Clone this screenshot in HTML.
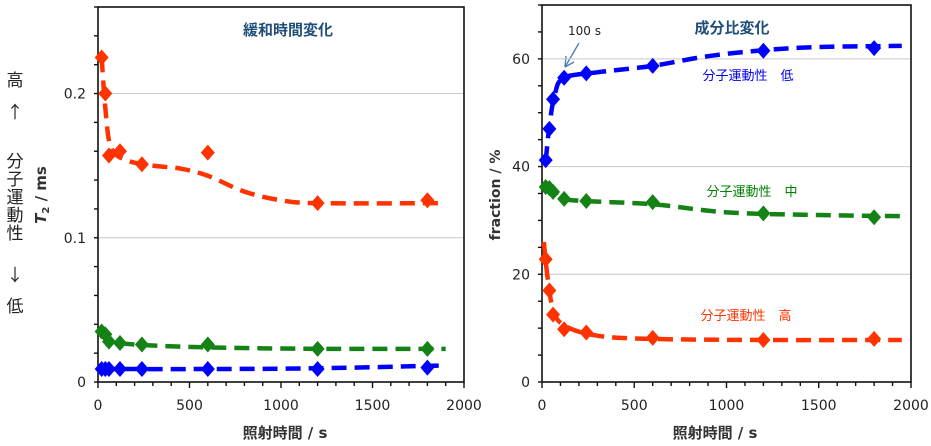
<!DOCTYPE html>
<html><head><meta charset="utf-8"><style>
body{margin:0;background:#fff;width:931px;height:441px;overflow:hidden}
svg{font-family:"DejaVu Sans","Noto Sans CJK JP",sans-serif}
</style></head><body>
<svg id="s" width="931" height="441" xmlns="http://www.w3.org/2000/svg">
<g font-size="17" fill="#222" text-anchor="middle" font-family="'Noto Sans CJK JP',sans-serif">
<text x="15" y="86">高</text><text x="15" y="118">↑</text>
<text x="15" y="167">分</text><text x="15" y="185">子</text><text x="15" y="203">運</text><text x="15" y="221">動</text><text x="15" y="239">性</text>
<text x="15" y="281">↓</text><text x="15" y="312">低</text>
</g>
<text transform="translate(46,195) rotate(-90)" text-anchor="middle" font-size="15" font-weight="bold" fill="#333"><tspan font-style="italic">T</tspan><tspan font-size="10" dy="3">2</tspan><tspan dy="-3"> / ms</tspan></text>
<text transform="translate(500,195) rotate(-90)" text-anchor="middle" font-size="14" font-weight="bold" fill="#333">fraction / %</text>
<text x="288" y="35" text-anchor="middle" font-size="15" font-weight="bold" fill="#1f4e79" font-family="'Noto Sans CJK JP',sans-serif">緩和時間変化</text>
<text x="732" y="33" text-anchor="middle" font-size="15" font-weight="bold" fill="#1f4e79" font-family="'Noto Sans CJK JP',sans-serif">成分比変化</text>
<text x="285" y="438" text-anchor="middle" font-size="15" font-weight="bold" fill="#333">照射時間 / s</text>
<text x="715" y="438" text-anchor="middle" font-size="15" font-weight="bold" fill="#333">照射時間 / s</text>
<text x="568" y="35" font-size="12" fill="#222">100 s</text>
<path d="M579,43 L565,67 M565,67 L566,56 M565,67 L574,62" stroke="#4a7ab5" stroke-width="1.3" fill="none"/>
<text x="748" y="80" text-anchor="middle" font-size="13" fill="#0000ee">分子運動性　低</text>
<text x="752" y="196" text-anchor="middle" font-size="13" fill="#008000">分子運動性　中</text>
<text x="746" y="320" text-anchor="middle" font-size="13" fill="#ff3300">分子運動性　高</text>
<g id="g"></g>
</svg>
<script>
var g=document.getElementById('g'),h='';
function chart(x0,x1,y0,y1,ymax,ticks,minor,labs,grid){
 var sx=s=>x0+(x1-x0)*s/2000, sy=v=>y1-(y1-y0)*v/ymax;
 grid.forEach(v=>{h+=`<line x1="${x0}" x2="${x1}" y1="${sy(v)}" y2="${sy(v)}" stroke="#c8c8c8" stroke-width="1"/>`});
 h+=`<rect x="${x0}" y="${y0}" width="${x1-x0}" height="${y1-y0}" fill="none" stroke="#111" stroke-width="1.6"/>`;
 for(var v=0;v<=ymax+1e-9;v+=minor){h+=`<line x1="${x0-4}" x2="${x0}" y1="${sy(v)}" y2="${sy(v)}" stroke="#111" stroke-width="1.4"/>`;}
 ticks.forEach((v,i)=>{h+=`<text x="${x0-12}" y="${sy(v)+5}" text-anchor="end" font-size="14" fill="#222">${labs[i]}</text>`});
 for(var s=0;s<=2000;s+=100){h+=`<line x1="${sx(s)}" x2="${sx(s)}" y1="${y1}" y2="${y1+(s%500?4:6)}" stroke="#111" stroke-width="1.4"/>`;}
 [0,500,1000,1500,2000].forEach(s=>{h+=`<text x="${sx(s)}" y="${y1+28}" text-anchor="middle" font-size="14" fill="#222">${s}</text>`});
 return {sx,sy};
}
function path(c,pts,col){
 var P=pts.map(p=>[c.sx(p[0]),c.sy(p[1])]),d='M'+P[0];
 for(var i=0;i<P.length-1;i++){var p0=P[i-1]||P[i],p1=P[i],p2=P[i+1],p3=P[i+2]||p2;
  d+=` C${p1[0]+(p2[0]-p0[0])/6},${p1[1]+(p2[1]-p0[1])/6} ${p2[0]-(p3[0]-p1[0])/6},${p2[1]-(p3[1]-p1[1])/6} ${p2[0]},${p2[1]}`;}
 h+=`<path d="${d}" fill="none" stroke="${col}" stroke-width="4.5" stroke-dasharray="15 8"/>`;
}
function pts(c,d,col){d.forEach(p=>{var x=c.sx(p[0]),y=c.sy(p[1]);h+=`<path d="M${x},${y-8}L${x+7},${y}L${x},${y+8}L${x-7},${y}Z" fill="${col}"/>`});}
var R='#ff3300',G='#148214',B='#0000ff';
var L=chart(98,464,7,382,0.26,[0,0.1,0.2],0.02,['0','0.1','0.2'],[0.1,0.2]);
path(L,[[20,0.225],[40,0.19],[70,0.163],[150,0.154],[300,0.15],[450,0.148],[600,0.143],[800,0.132],[1000,0.126],[1200,0.124],[1900,0.124]],R);
path(L,[[20,0.036],[70,0.029],[200,0.026],[600,0.024],[1200,0.023],[1900,0.023]],G);
path(L,[[20,0.009],[600,0.009],[1200,0.0095],[1900,0.0115]],B);
pts(L,[[20,0.225],[40,0.2],[60,0.157],[120,0.16],[240,0.151],[600,0.159],[1200,0.124],[1800,0.126]],R);
pts(L,[[20,0.035],[40,0.033],[60,0.028],[120,0.027],[240,0.026],[600,0.026],[1200,0.023],[1800,0.023]],G);
pts(L,[[20,0.009],[40,0.009],[60,0.009],[120,0.009],[240,0.009],[600,0.009],[1200,0.009],[1800,0.01]],B);
var Rc=chart(542,911,5,382,70,[0,20,40,60],5,['0','20','40','60'],[20,40,60]);
path(Rc,[[20,41],[40,47.5],[70,53.5],[120,56.5],[300,57.5],[600,58.7],[900,60.5],[1200,61.6],[1500,62.2],[1950,62.4]],B);
path(Rc,[[20,36.5],[70,35],[150,33.8],[600,33],[1000,31.5],[1500,31],[1950,30.8]],G);
path(Rc,[[10,26],[30,19.5],[60,13.5],[120,10.5],[300,8.6],[600,8],[1200,7.8],[1950,7.8]],R);
pts(Rc,[[20,41.2],[40,47],[60,52.5],[120,56.5],[240,57.3],[600,58.7],[1200,61.5],[1800,62]],B);
pts(Rc,[[20,36.2],[40,36],[60,35.3],[120,34],[240,33.6],[600,33.4],[1200,31.3],[1800,30.6]],G);
pts(Rc,[[20,22.8],[40,17],[60,12.5],[120,9.8],[240,9.2],[600,8.2],[1200,7.8],[1800,8]],R);
g.innerHTML=h;
</script>
</body></html>
